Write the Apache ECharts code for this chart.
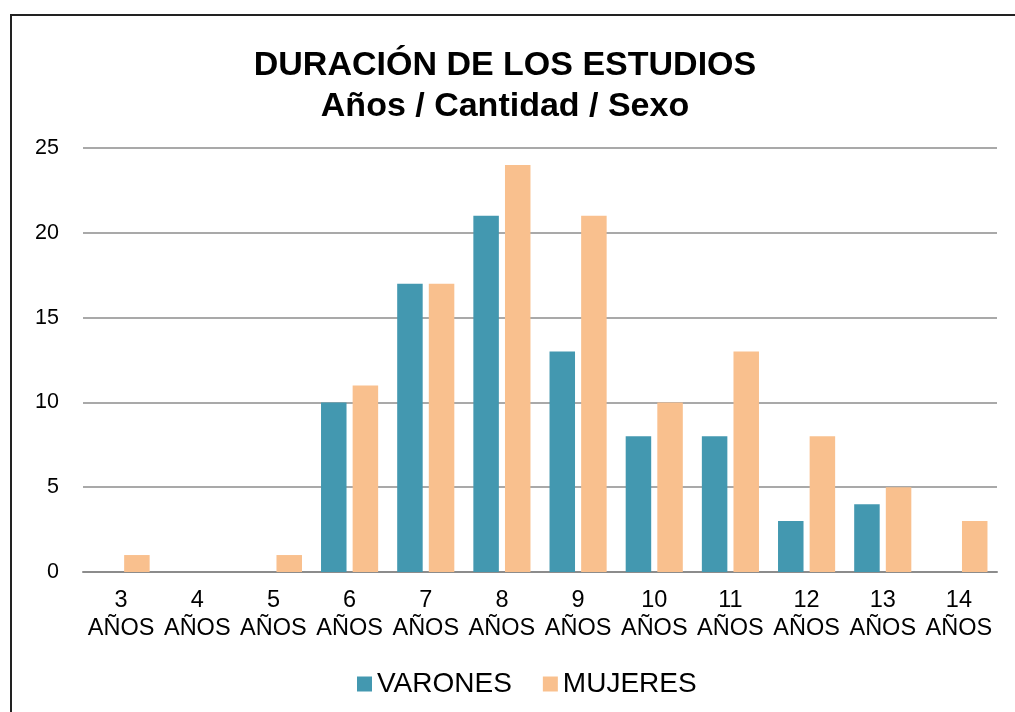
<!DOCTYPE html>
<html lang="es">
<head>
<meta charset="UTF-8">
<title>Duración de los estudios</title>
<style>
    html, body { margin: 0; padding: 0; background: #fff; }
    #main { width: 1015px; height: 712px; }
</style>
<script src="https://cdn.jsdelivr.net/npm/echarts@6/dist/echarts.min.js"></script>
</head>
<body>
<div id="main"></div>
<script>
    const categories = ['3\nAÑOS', '4\nAÑOS', '5\nAÑOS', '6\nAÑOS', '7\nAÑOS', '8\nAÑOS',
        '9\nAÑOS', '10\nAÑOS', '11\nAÑOS', '12\nAÑOS', '13\nAÑOS', '14\nAÑOS'];
    const varones = [0, 0, 0, 10, 17, 21, 13, 8, 8, 3, 4, 0];
    const mujeres = [1, 0, 1, 11, 17, 24, 21, 10, 13, 8, 5, 3];

    const chart = echarts.init(document.getElementById('main'));
    const font = 'Liberation Sans, Arial, sans-serif';

    chart.setOption({
        animation: false,
        title: {
            text: 'DURACIÓN DE LOS ESTUDIOS\nAños / Cantidad / Sexo',
            left: 500,
            textAlign: 'center',
            top: 40,
            textStyle: { fontFamily: font, fontSize: 34, fontWeight: 'bold', color: '#000', lineHeight: 41 }
        },
        graphic: [{
            type: 'rect',
            shape: { x: 11, y: 15, width: 1100, height: 800 },
            style: { fill: 'none', stroke: '#222', lineWidth: 2 },
            silent: true
        }],
        legend: {
            bottom: 9,
            left: 352,
            itemWidth: 15,
            itemHeight: 15,
            itemGap: 31,
            icon: 'rect',
            textStyle: { fontFamily: font, fontSize: 28, color: '#000' },
            data: ['VARONES', 'MUJERES']
        },
        grid: { left: 83, right: 18, top: 148, bottom: 140 },
        xAxis: {
            type: 'category',
            data: categories,
            axisLine: { lineStyle: { color: '#8c8c8c', width: 2 } },
            axisTick: { show: false },
            axisLabel: {
                interval: 0,
                fontFamily: font,
                fontSize: 23.5,
                color: '#000',
                lineHeight: 28,
                margin: 15
            }
        },
        yAxis: {
            type: 'value',
            min: 0,
            max: 25,
            interval: 5,
            axisLine: { show: false },
            axisTick: { show: false },
            splitLine: { lineStyle: { color: '#8c8c8c', width: 1.5 } },
            axisLabel: { fontFamily: font, fontSize: 21.5, color: '#000', margin: 24 }
        },
        series: [
            {
                name: 'VARONES',
                type: 'bar',
                data: varones,
                barGap: '24%',
                barCategoryGap: '25%',
                itemStyle: { color: '#4398b0' }
            },
            {
                name: 'MUJERES',
                type: 'bar',
                data: mujeres,
                itemStyle: { color: '#f9c08e' }
            }
        ]
    });
</script>
</body>
</html>
